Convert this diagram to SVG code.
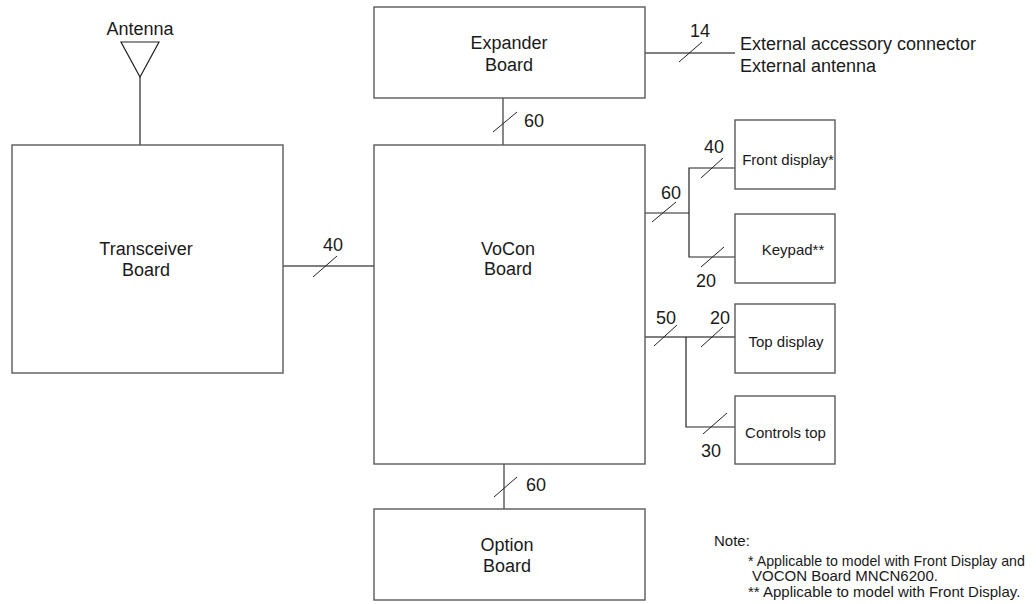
<svg xmlns="http://www.w3.org/2000/svg" width="1036" height="604" viewBox="0 0 1036 604">
<style>
.box{fill:#fff;stroke:#5a5a5a;stroke-width:1.4}
.wire{fill:none;stroke:#555;stroke-width:1.4}
.blk{fill:none;stroke:#222;stroke-width:1.2}
.sl{stroke:#222;stroke-width:1}
text{font-family:"Liberation Sans",Arial,sans-serif;fill:#1a1a1a}
.lg{font-size:18px}
.md{font-size:15px}
.c{text-anchor:middle}
</style>
<rect width="1036" height="604" fill="#fff"/>
<g id="connectors">
<line class="blk" x1="140" y1="77" x2="140" y2="145"/>
<line class="wire" x1="283" y1="266" x2="374" y2="266"/>
<line class="sl" x1="313" y1="277" x2="337" y2="256"/>
<text class="lg c" x="333" y="251">40</text>
<line class="wire" x1="503" y1="98" x2="503" y2="145"/>
<line class="sl" x1="493" y1="132" x2="517" y2="112"/>
<text class="lg" x="524" y="127">60</text>
<line class="wire" x1="645" y1="53" x2="735" y2="53"/>
<line class="sl" x1="679" y1="62" x2="702" y2="42"/>
<text class="lg c" x="700" y="37">14</text>
<line class="wire" x1="504" y1="464" x2="504" y2="509"/>
<line class="sl" x1="494" y1="497" x2="517" y2="477"/>
<text class="lg" x="526" y="491">60</text>
<polyline class="blk" points="645,213 689,213"/>
<polyline class="blk" points="735,168 689,168 689,257 735,257"/>
<line class="sl" x1="652" y1="222" x2="676" y2="202"/>
<text class="lg c" x="671" y="199">60</text>
<line class="sl" x1="701" y1="178" x2="723" y2="158"/>
<text class="lg c" x="714" y="153">40</text>
<line class="sl" x1="701" y1="267" x2="724" y2="247"/>
<text class="lg c" x="706" y="287">20</text>
<line class="wire" x1="645" y1="337" x2="735" y2="337"/>
<polyline class="blk" points="686,337 686,427 735,427"/>
<line class="sl" x1="654" y1="346" x2="677" y2="325"/>
<text class="lg c" x="666" y="324">50</text>
<line class="sl" x1="701" y1="347" x2="723" y2="327"/>
<text class="lg c" x="720" y="324">20</text>
<line class="sl" x1="703" y1="434" x2="727" y2="413"/>
<text class="lg c" x="711" y="457">30</text>
</g>
<g id="antenna">
<polygon points="121,42 159,42 140,77" fill="#fff" stroke="#222" stroke-width="1.2"/>
<text class="lg c" x="140" y="35">Antenna</text>
</g>
<g id="transceiver">
<rect class="box" x="12" y="145" width="271" height="228"/>
<text class="lg c" x="146" y="255">Transceiver</text>
<text class="lg c" x="146" y="276">Board</text>
</g>
<g id="expander">
<rect class="box" x="374" y="7" width="271" height="91"/>
<text class="lg c" x="509" y="49">Expander</text>
<text class="lg c" x="509" y="71">Board</text>
</g>
<g id="external">
<text class="lg" x="740" y="50">External accessory connector</text>
<text class="lg" x="740" y="72">External antenna</text>
</g>
<g id="vocon">
<rect class="box" x="374" y="145" width="271" height="319"/>
<text class="lg c" x="508" y="255">VoCon</text>
<text class="lg c" x="508" y="275">Board</text>
</g>
<g id="option">
<rect class="box" x="374" y="509" width="271" height="91"/>
<text class="lg c" x="507" y="551">Option</text>
<text class="lg c" x="507" y="572">Board</text>
</g>
<g id="front-display">
<rect class="box" x="735" y="120" width="100" height="69"/>
<text class="md c" x="788" y="165">Front display*</text>
</g>
<g id="keypad">
<rect class="box" x="735" y="214" width="100" height="69"/>
<text class="md c" x="793" y="255">Keypad**</text>
</g>
<g id="top-display">
<rect class="box" x="735" y="304" width="100" height="69"/>
<text class="md c" x="786" y="347">Top display</text>
</g>
<g id="controls-top">
<rect class="box" x="735" y="396" width="100" height="68"/>
<text class="md c" x="785.5" y="438">Controls top</text>
</g>
<g id="note">
<text class="md" x="714" y="546">Note:</text>
<text x="748" y="566" font-size="14.2">* Applicable to model with Front Display and</text>
<text class="md" x="752" y="581">VOCON Board MNCN6200.</text>
<text class="md" x="748" y="597">** Applicable to model with Front Display.</text>
</g>
</svg>
